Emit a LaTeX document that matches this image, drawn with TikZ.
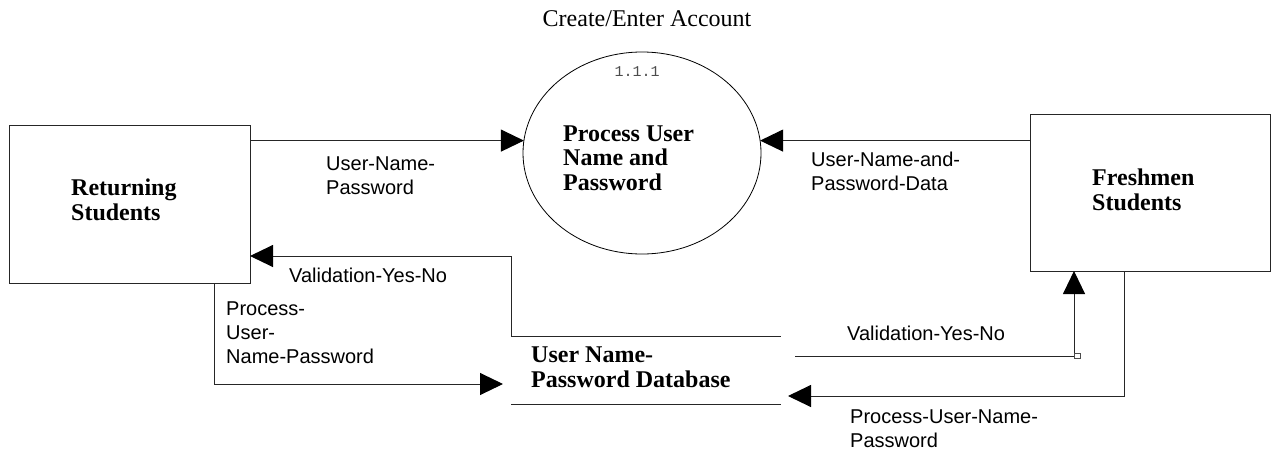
\documentclass[tikz,border=0pt]{standalone}
\usepackage{fontspec}
\setmainfont{Liberation Serif}
\setsansfont{Liberation Sans}
\setmonofont{Liberation Mono}
\usetikzlibrary{arrows.meta,shapes.geometric}
\tikzset{
  entity/.style={draw=black!85, line width=1pt, rectangle, inner sep=0pt, outer sep=0pt},
  proc/.style={draw=black, line width=0.8pt, ellipse, inner sep=0pt, outer sep=0pt},
  flow/.style={draw=black!85, line width=1pt, -{Triangle[length=23pt,width=22pt,color=black]}},
  plainline/.style={draw=black!85, line width=1pt},
  boldtxt/.style={font=\fontsize{24}{24.5}\selectfont\bfseries, align=left, anchor=base west, inner sep=0pt},
  flowtxt/.style={font=\fontsize{20}{24}\selectfont\sffamily, align=left, anchor=base west, inner sep=0pt},
}
\begin{document}
\begin{tikzpicture}[x=1pt,y=-1pt]
\useasboundingbox (0,0) rectangle (1271,455);

% title
\node[font=\fontsize{24}{25}\selectfont, anchor=base, inner sep=0pt] (title) at (647,27) {Create/Enter Account};

% process (base anchor of multi-line text = baseline of last line)
\node[proc, minimum width=238pt, minimum height=202pt] (proc) at (642,153) {};
\node[font=\fontsize{15}{16}\selectfont\ttfamily, text=black!70, anchor=base, inner sep=0pt] (pid) at (637,76) {1.1.1};
\node[boldtxt] (proctxt) at (563,190) {Process User\\Name and\\Password};

% entities
\node[entity, minimum width=241pt, minimum height=158pt] (ret) at (129.5,204) {};
\node[boldtxt] (rettxt) at (71,220) {Returning\\Students};
\node[entity, minimum width=240pt, minimum height=157pt] (fre) at (1150,192.5) {};
\node[boldtxt] (fretxt) at (1092,210) {Freshmen\\Students};

% data store
\node[inner sep=0pt, outer sep=0pt, minimum width=270pt, minimum height=68pt] (db) at (646,370) {};
\draw[plainline] (db.north west) -- (db.north east);
\draw[plainline] (db.south west) -- (db.south east);
\node[boldtxt] (dbtxt) at (531,387) {User Name-\\Password Database};

% coordinates for bends
\coordinate (v1) at (511,256);
\coordinate (p2) at (214,384);
\coordinate (p3) at (503,384);
\coordinate (v2) at (795,356);
\coordinate (v3) at (1074,356);
\coordinate (f1) at (1124,396);
\coordinate (f2) at (788,396);

% flows
\draw[flow] (ret.east |- proc.174.2) -- (proc.174.2);
\draw[flow] (fre.west |- proc.6.29) -- (proc.6.29);
\draw[flow] (db.north west) -- (v1) -- (ret.east |- v1);
\draw[flow] (ret.south -| p2) -- (p2) -- (p3);
\draw[flow] (v2) -- (v3) -- (fre.south -| v3);
\draw[draw=black!70, line width=0.8pt] (1074,353.5) rectangle (1080,358);
\draw[flow] (fre.south -| f1) -- (f1) -- (f2);

% flow labels
\node[flowtxt] (l1) at (326,194) {User-Name-\\Password};
\node[flowtxt] (l2) at (811,190.5) {User-Name-and-\\Password-Data};
\node[flowtxt] (l3) at (289,282) {Validation-Yes-No};
\node[flowtxt] (l4) at (226,363) {Process-\\User-\\Name-Password};
\node[flowtxt] (l5) at (847,340) {Validation-Yes-No};
\node[flowtxt] (l6) at (850,447) {Process-User-Name-\\Password};
\end{tikzpicture}
\end{document}
